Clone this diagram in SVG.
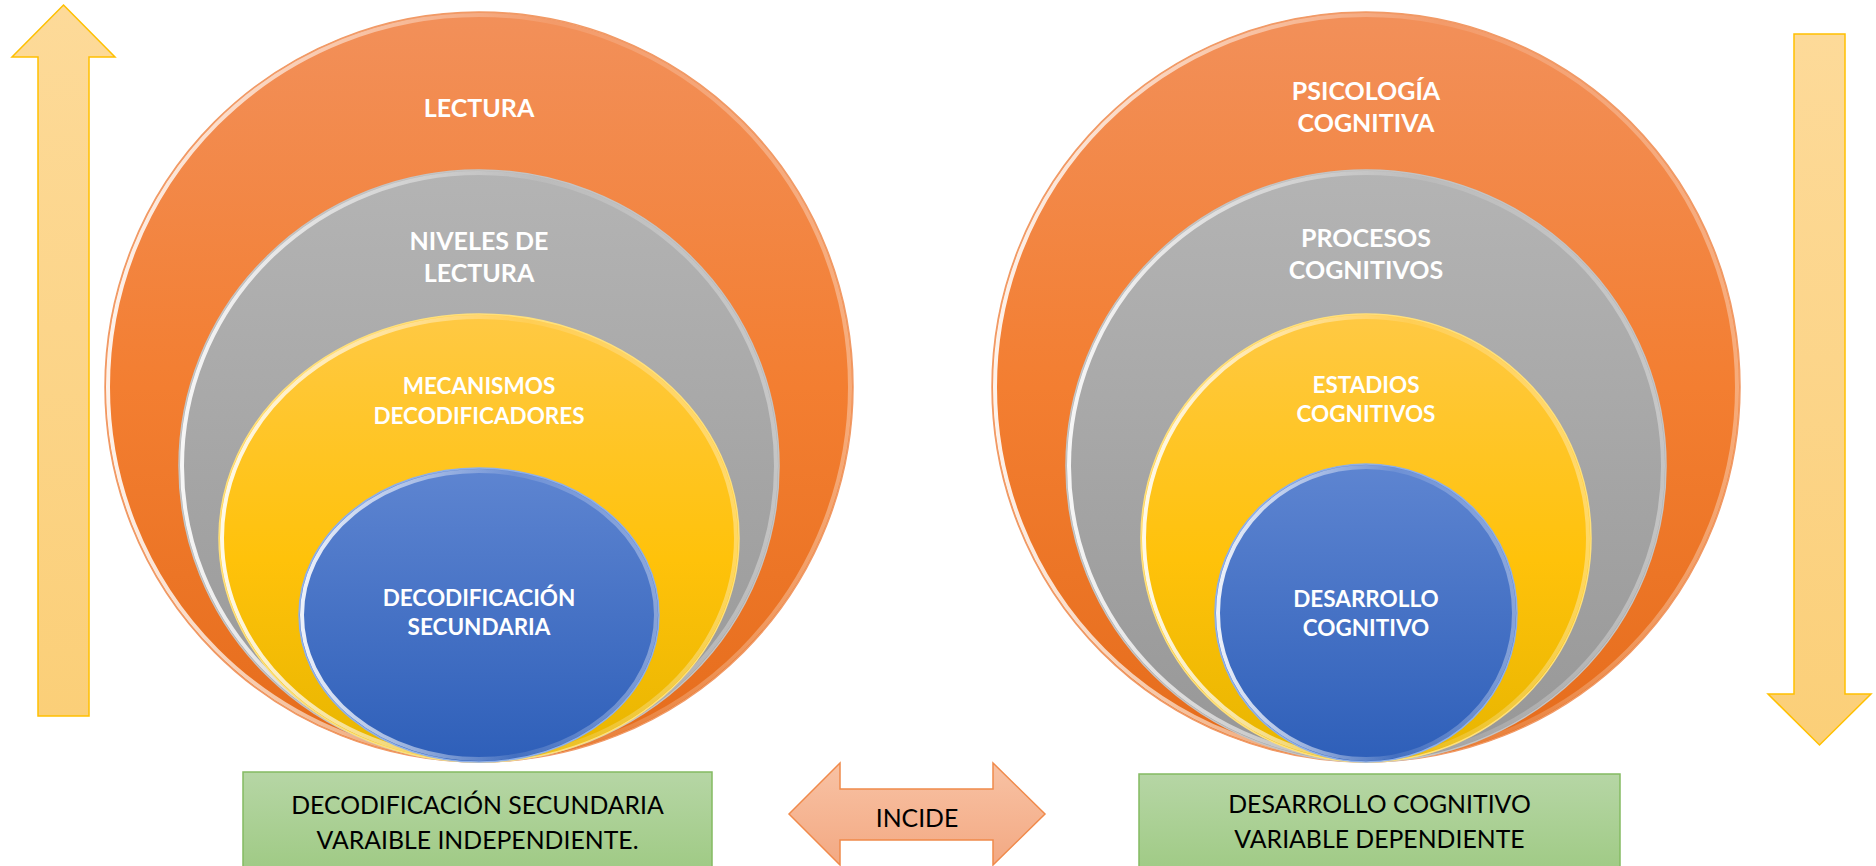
<svg xmlns="http://www.w3.org/2000/svg" width="1876" height="866" viewBox="0 0 1876 866">
  <defs>
    <linearGradient id="gOrange" x1="0" y1="0" x2="0" y2="1">
      <stop offset="0" stop-color="#F2905A"/>
      <stop offset="0.5" stop-color="#F37E31"/>
      <stop offset="1" stop-color="#E56C1B"/>
    </linearGradient>
    <linearGradient id="gGray" x1="0" y1="0" x2="0" y2="1">
      <stop offset="0" stop-color="#B4B4B4"/>
      <stop offset="1" stop-color="#979797"/>
    </linearGradient>
    <linearGradient id="gYellow" x1="0" y1="0" x2="0" y2="1">
      <stop offset="0" stop-color="#FFC944"/>
      <stop offset="0.55" stop-color="#FFC20A"/>
      <stop offset="1" stop-color="#E7B500"/>
    </linearGradient>
    <linearGradient id="gBlue" x1="0" y1="0" x2="0" y2="1">
      <stop offset="0" stop-color="#5E85D1"/>
      <stop offset="1" stop-color="#2E5FB9"/>
    </linearGradient>
    <linearGradient id="gRim" x1="0" y1="0" x2="1" y2="0">
      <stop offset="0" stop-color="#FFFFFF" stop-opacity="0.9"/>
      <stop offset="0.35" stop-color="#FFFFFF" stop-opacity="0.45"/>
      <stop offset="0.6" stop-color="#FFFFFF" stop-opacity="0.1"/>
      <stop offset="1" stop-color="#FFFFFF" stop-opacity="0.35"/>
    </linearGradient>
    <linearGradient id="gArrowY" x1="0" y1="0" x2="0" y2="1">
      <stop offset="0" stop-color="#FDDA99"/>
      <stop offset="1" stop-color="#FBCF78"/>
    </linearGradient>
    <linearGradient id="gArrowO" x1="0" y1="0" x2="0" y2="1">
      <stop offset="0" stop-color="#F8C2A4"/>
      <stop offset="1" stop-color="#F3A983"/>
    </linearGradient>
    <linearGradient id="gGreen" x1="0" y1="0" x2="0" y2="1">
      <stop offset="0" stop-color="#B6D6A5"/>
      <stop offset="1" stop-color="#9FCA84"/>
    </linearGradient>
  </defs>
  <style>
    .lbl { font-family: Lato, "Liberation Sans", sans-serif; font-weight: 700; fill: #FFFFFF; text-anchor: middle; }
    .big { font-size: 25px; }
    .sm { font-size: 22.5px; }
    .box { font-family: Lato, "Liberation Sans", sans-serif; font-weight: 400; font-size: 24.8px; fill: #000000; text-anchor: middle; }
    .rim { fill: none; stroke: url(#gRim); stroke-width: 4; }
    .o { fill: url(#gOrange); stroke: #F19A66; stroke-width: 1.5; }
    .g { fill: url(#gGray); stroke: #C4C4C4; stroke-width: 1.5; }
    .y { fill: url(#gYellow); stroke: #FFE07A; stroke-width: 1.5; }
    .b { fill: url(#gBlue); stroke: #8FB0E8; stroke-width: 1.5; }
    .gbox { fill: url(#gGreen); stroke: #84BB62; stroke-width: 1.5; }
  </style>

  <g id="connectors">
    <polygon id="arrow-up" points="63.5,5 115,57 89,57 89,716 38,716 38,57 12,57" fill="url(#gArrowY)" stroke="#FFC000" stroke-width="1.5"/>
    <polygon id="arrow-down" points="1794,34 1845,34 1845,694 1871,694 1819.5,745 1768,694 1794,694" fill="url(#gArrowY)" stroke="#FFC000" stroke-width="1.5"/>
    <g id="arrow-incide">
      <polygon points="789,814 840,763 840,789 993,789 993,763 1045,814 993,865 993,840 840,840 840,865" fill="url(#gArrowO)" stroke="#F08A4B" stroke-width="1.5"/>
      <text class="box" x="917" y="827">INCIDE</text>
    </g>
  </g>

  <g id="left-lectura">
    <ellipse class="o" cx="479" cy="387" rx="374" ry="375"/>
    <ellipse class="rim" cx="479" cy="387" rx="371" ry="372"/>
    <text class="lbl big" x="479" y="117">LECTURA</text>
  </g>
  <g id="left-niveles">
    <ellipse class="g" cx="479" cy="466" rx="300" ry="296"/>
    <ellipse class="rim" cx="479" cy="466" rx="297" ry="293"/>
    <text class="lbl big" x="479" y="250">NIVELES DE</text>
    <text class="lbl big" x="479" y="282">LECTURA</text>
  </g>
  <g id="left-mecanismos">
    <ellipse class="y" cx="479" cy="538" rx="260" ry="224"/>
    <ellipse class="rim" cx="479" cy="538" rx="257" ry="221"/>
    <text class="lbl sm" x="479" y="394">MECANISMOS</text>
    <text class="lbl sm" x="479" y="424">DECODIFICADORES</text>
  </g>
  <g id="left-decodificacion">
    <ellipse class="b" cx="479" cy="615" rx="180" ry="147"/>
    <ellipse class="rim" cx="479" cy="615" rx="177" ry="144"/>
    <text class="lbl sm" x="479" y="606">DECODIFICACIÓN</text>
    <text class="lbl sm" x="479" y="635">SECUNDARIA</text>
  </g>

  <g id="right-psicologia">
    <ellipse class="o" cx="1366" cy="387" rx="374" ry="375"/>
    <ellipse class="rim" cx="1366" cy="387" rx="371" ry="372"/>
    <text class="lbl big" x="1366" y="100">PSICOLOGÍA</text>
    <text class="lbl big" x="1366" y="132">COGNITIVA</text>
  </g>
  <g id="right-procesos">
    <ellipse class="g" cx="1366" cy="466" rx="300" ry="296"/>
    <ellipse class="rim" cx="1366" cy="466" rx="297" ry="293"/>
    <text class="lbl big" x="1366" y="247">PROCESOS</text>
    <text class="lbl big" x="1366" y="279">COGNITIVOS</text>
  </g>
  <g id="right-estadios">
    <ellipse class="y" cx="1366" cy="538" rx="225" ry="224"/>
    <ellipse class="rim" cx="1366" cy="538" rx="222" ry="221"/>
    <text class="lbl sm" x="1366" y="393">ESTADIOS</text>
    <text class="lbl sm" x="1366" y="422">COGNITIVOS</text>
  </g>
  <g id="right-desarrollo">
    <ellipse class="b" cx="1366" cy="613" rx="151" ry="149"/>
    <ellipse class="rim" cx="1366" cy="613" rx="148" ry="146"/>
    <text class="lbl sm" x="1366" y="607">DESARROLLO</text>
    <text class="lbl sm" x="1366" y="636">COGNITIVO</text>
  </g>

  <g id="box-independiente">
    <rect class="gbox" x="243" y="772" width="469" height="100"/>
    <text class="box" x="477.5" y="814">DECODIFICACIÓN SECUNDARIA</text>
    <text class="box" x="477.5" y="849">VARAIBLE INDEPENDIENTE.</text>
  </g>
  <g id="box-dependiente">
    <rect class="gbox" x="1139" y="774" width="481" height="100"/>
    <text class="box" x="1379.5" y="813">DESARROLLO COGNITIVO</text>
    <text class="box" x="1379.5" y="848">VARIABLE DEPENDIENTE</text>
  </g>
</svg>
